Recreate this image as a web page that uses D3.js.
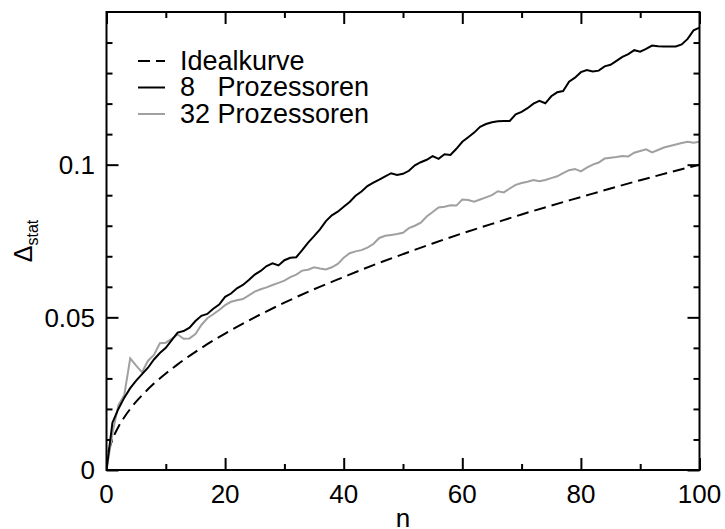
<!DOCTYPE html>
<html>
<head>
<meta charset="utf-8">
<script src="https://cdn.jsdelivr.net/npm/d3@7"></script>
<style>
  body { margin: 0; background: #fff; }
  text { font-family: "Liberation Sans", Arial, sans-serif; fill: #000; }
</style>
</head>
<body>
<svg id="chart" width="725" height="529"></svg>
<script>
const idealN = [0, 0.25, 0.5, 1, 2, 3, 4, 5, 6, 8, 10, 12, 15, 20, 25, 30, 35, 40, 45, 50, 55, 60, 65, 70, 75, 80, 85, 90, 95, 100];
const idealV = [0, 0.0050, 0.0071, 0.0100, 0.0141, 0.0173, 0.0200, 0.0224, 0.0245, 0.0283, 0.0316, 0.0346, 0.0387, 0.0447, 0.0500, 0.0548, 0.0592, 0.0632, 0.0671, 0.0707, 0.0742, 0.0775, 0.0806, 0.0837, 0.0866, 0.0894, 0.0922, 0.0949, 0.0975, 0.1000];

// 8 and 32 processors, n = 0..100
const p8 = [0, 0.0155, 0.0200, 0.0237, 0.0268, 0.0293, 0.0314, 0.0335, 0.0362, 0.0383,
  0.0400, 0.0425, 0.0450, 0.0455, 0.0466, 0.0488, 0.0505, 0.0511, 0.0528, 0.0542,
  0.0567, 0.0578, 0.0595, 0.0606, 0.0622, 0.0640, 0.0652, 0.0668, 0.0677, 0.0670,
  0.0687, 0.0695, 0.0697, 0.0720, 0.0745, 0.0766, 0.0788, 0.0815, 0.0834, 0.0846,
  0.0862, 0.0878, 0.0898, 0.0912, 0.0930, 0.0941, 0.0951, 0.0962, 0.0972, 0.0966,
  0.0970, 0.0980, 0.0998, 0.1008, 0.1016, 0.1028, 0.1019, 0.1034, 0.1032, 0.1052,
  0.1075, 0.1090, 0.1105, 0.1124, 0.1133, 0.1139, 0.1142, 0.1143, 0.1143, 0.1165,
  0.1173, 0.1185, 0.1200, 0.1209, 0.1201, 0.1224, 0.1237, 0.1241, 0.1272, 0.1285,
  0.1303, 0.1310, 0.1305, 0.1308, 0.1322, 0.1327, 0.1340, 0.1353, 0.1362, 0.1375,
  0.1370, 0.1379, 0.1390, 0.1388, 0.1387, 0.1387, 0.1387, 0.1394, 0.1412, 0.1440,
  0.1449];
const p32 = [0, 0.0120, 0.0212, 0.0246, 0.0366, 0.0342, 0.0320, 0.0358, 0.0377, 0.0415,
  0.0417, 0.0430, 0.0444, 0.0430, 0.0431, 0.0445, 0.0475, 0.0497, 0.0510, 0.0524,
  0.0540, 0.0551, 0.0556, 0.0560, 0.0572, 0.0584, 0.0592, 0.0598, 0.0606, 0.0613,
  0.0620, 0.0632, 0.0640, 0.0653, 0.0656, 0.0664, 0.0660, 0.0657, 0.0664, 0.0675,
  0.0695, 0.0710, 0.0716, 0.0720, 0.0728, 0.0740, 0.0760, 0.0767, 0.0770, 0.0773,
  0.0777, 0.0792, 0.0800, 0.0810, 0.0830, 0.0845, 0.0860, 0.0862, 0.0867, 0.0866,
  0.0886, 0.0884, 0.0879, 0.0886, 0.0893, 0.0900, 0.0913, 0.0909, 0.0922, 0.0934,
  0.0940, 0.0944, 0.0950, 0.0946, 0.0950, 0.0956, 0.0962, 0.0972, 0.0982, 0.0986,
  0.0978, 0.0990, 0.1000, 0.1007, 0.1020, 0.1023, 0.1025, 0.1028, 0.1027, 0.1039,
  0.1045, 0.1050, 0.1040, 0.1048, 0.1056, 0.1061, 0.1066, 0.1071, 0.1075, 0.1072,
  0.1075];

const xMajor = [0, 20, 40, 60, 80, 100];
const xMinor = [10, 30, 50, 70, 90];
const yMajor = [0, 0.05, 0.1];
const yMinor = [0.01, 0.02, 0.03, 0.04, 0.06, 0.07, 0.08, 0.09, 0.11, 0.12, 0.13, 0.14];
const yLabels = ["0", "0.05", "0.1"];

const legendNames = ["Idealkurve", "8   Prozessoren", "32 Prozessoren"];

const svg = d3.select("#chart");
const m = {left: 106.5, right: 699.5, top: 12, bottom: 470};
const W = m.right - m.left, H = m.bottom - m.top;

const x = d3.scaleLinear().domain([0, 100]).range([m.left, m.right]);
const y = d3.scaleLinear().domain([0, 0.15]).range([m.bottom, m.top]);

// ticks (inward on all four sides)
function tickAxis(axis, vals, size, tx, ty) {
  const g = svg.append("g").attr("transform", `translate(${tx},${ty})`)
    .call(axis.tickValues(vals).tickSize(size).tickFormat(""));
  g.select(".domain").remove();
  g.selectAll("line").attr("stroke", "#000").attr("stroke-width", 2);
  return g;
}
tickAxis(d3.axisBottom(x), xMajor, -12, 0, m.bottom);
tickAxis(d3.axisBottom(x), xMinor, -6, 0, m.bottom);
tickAxis(d3.axisTop(x), xMajor, -12, 0, m.top);
tickAxis(d3.axisTop(x), xMinor, -6, 0, m.top);
tickAxis(d3.axisLeft(y), yMajor, -12, m.left, 0);
tickAxis(d3.axisLeft(y), yMinor, -6, m.left, 0);
tickAxis(d3.axisRight(y), yMajor, -12, m.right, 0);
tickAxis(d3.axisRight(y), yMinor, -6, m.right, 0);

// tick labels
svg.append("g").selectAll("text").data(xMajor).join("text")
  .attr("x", d => x(d)).attr("y", 503)
  .attr("text-anchor", "middle").attr("font-size", 26)
  .text(d => d);
svg.append("g").selectAll("text").data(yMajor).join("text")
  .attr("x", 95).attr("y", d => y(d)).attr("dy", "0.36em")
  .attr("text-anchor", "end").attr("font-size", 26)
  .text((d, i) => yLabels[i]);

// axis titles
svg.append("text").attr("x", (m.left + m.right) / 2).attr("y", 527)
  .attr("text-anchor", "middle").attr("font-size", 26).text("n");
const yt = svg.append("text")
  .attr("transform", `translate(32,${(m.top + m.bottom) / 2}) rotate(-90)`)
  .attr("text-anchor", "middle");
yt.append("tspan").attr("font-size", 25).text("\u0394");
yt.append("tspan").attr("font-size", 16).attr("dy", 6).text("stat");

// curves
svg.append("clipPath").attr("id", "plot")
  .append("rect").attr("x", m.left).attr("y", m.top).attr("width", W).attr("height", H);

const line = d3.line().x(d => x(d[0])).y(d => y(d[1]));
const plot = svg.append("g").attr("clip-path", "url(#plot)");

plot.append("path")
  .datum(idealN.map((n, i) => [n, idealV[i]]))
  .attr("d", line.curve(d3.curveMonotoneX))
  .attr("fill", "none").attr("stroke", "#000").attr("stroke-width", 2)
  .attr("stroke-dasharray", "12,6");

line.curve(d3.curveLinear);
plot.append("path")
  .datum(p32.map((v, i) => [i, v]))
  .attr("d", line)
  .attr("fill", "none").attr("stroke", "#a0a0a0").attr("stroke-width", 2);

plot.append("path")
  .datum(p8.map((v, i) => [i, v]))
  .attr("d", line)
  .attr("fill", "none").attr("stroke", "#000").attr("stroke-width", 2);

// frame
svg.append("rect").attr("x", m.left).attr("y", m.top).attr("width", W).attr("height", H)
  .attr("fill", "none").attr("stroke", "#000").attr("stroke-width", 2);

// legend
const legStyles = [
  {stroke: "#000", dash: "12,6"},
  {stroke: "#000", dash: null},
  {stroke: "#a0a0a0", dash: null}
];
const leg = svg.append("g");
legendNames.forEach((name, i) => {
  const yy = 61 + i * 26.5;
  leg.append("line").attr("x1", 138).attr("x2", 165).attr("y1", yy).attr("y2", yy)
    .attr("stroke", legStyles[i].stroke).attr("stroke-width", 2)
    .attr("stroke-dasharray", legStyles[i].dash);
  leg.append("text").attr("x", 180).attr("y", yy + 8.5)
    .attr("font-size", 27).style("white-space", "pre").text(name);
});
</script>
</body>
</html>
